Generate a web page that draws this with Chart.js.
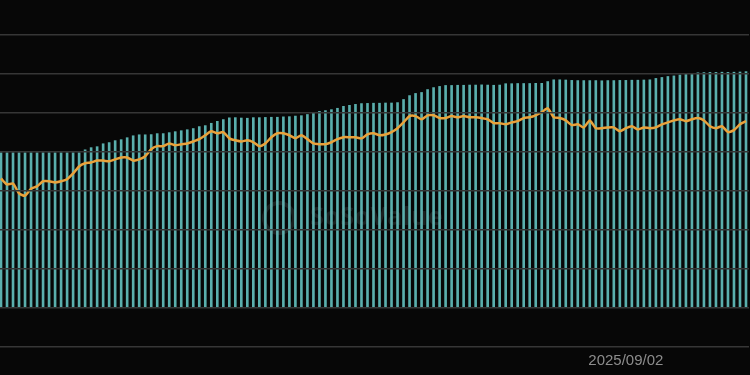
<!DOCTYPE html>
<html>
<head>
<meta charset="utf-8">
<script src="https://cdn.jsdelivr.net/npm/chart.js@4"></script>
<style>
  html, body { margin: 0; padding: 0; background: #070707; overflow: hidden; }
  #wrap { position: absolute; left: -2px; top: 0; width: 751px; height: 375px; }
  #mark { position: absolute; left: 262px; top: 198px; font: bold 25px "Open Sans", sans-serif;
          color: rgba(130, 170, 170, 0.16); letter-spacing: 0.5px; pointer-events: none; }
  #mark span { display: inline-block; width: 34px; height: 34px; border-radius: 50%;
               border: 4px solid rgba(130, 170, 170, 0.16); box-sizing: border-box;
               vertical-align: middle; margin-right: 14px; }
</style>
</head>
<body>
<div id="wrap"><canvas id="etf_chart"></canvas></div>
<div id="mark"><span></span>SoSoValue</div>
<script>
// total net assets, $B (bars)
const asset_values = [
  79.8, 79.8, 79.8, 79.8, 79.8, 79.8, 79.8, 79.8, 79.8, 79.8,
  79.8, 79.8, 79.8, 79.8, 81.3, 82.4, 82.9, 84.4, 85.0, 86.0,
  86.5, 87.5, 88.5, 89.0, 89.0, 89.1, 89.6, 89.6, 90.1, 90.6,
  91.1, 91.6, 92.2, 93.2, 93.7, 94.9, 95.9, 96.8, 97.7, 97.8,
  97.6, 97.5, 97.8, 97.8, 97.9, 98.0, 98.0, 98.2, 98.3, 98.6,
  98.8, 99.4, 100.4, 101.0, 101.4, 101.9, 102.6, 103.6, 104.1, 104.6,
  105.0, 105.1, 105.2, 105.2, 105.3, 105.3, 105.5, 107.1, 109.1, 110.2,
  110.7, 112.2, 113.2, 113.8, 114.3, 114.3, 114.4, 114.4, 114.5, 114.5,
  114.6, 114.5, 114.4, 114.5, 115.2, 115.2, 115.3, 115.3, 115.3, 115.4,
  115.4, 116.3, 117.2, 117.2, 117.1, 116.9, 116.8, 116.8, 116.8, 116.8,
  116.7, 116.8, 116.8, 116.9, 116.9, 117.0, 117.0, 117.1, 117.2, 117.9,
  118.4, 118.9, 119.2, 119.7, 120.1, 120.5, 120.8, 120.9, 121.0, 121.0,
  121.1, 121.0, 121.1, 121.2, 121.4
];

// price, $K (line)
const price_values = [
  103.2, 101.7, 101.9, 99.4, 98.8, 100.6, 101.2, 102.5, 102.5, 102.2,
  102.5, 103.0, 104.5, 106.3, 107.1, 107.3, 107.8, 107.8, 107.6, 108.1,
  108.6, 108.6, 107.8, 108.1, 108.9, 110.7, 111.5, 111.5, 112.2, 111.7,
  112.0, 112.2, 112.7, 113.3, 114.3, 115.3, 114.8, 115.1, 113.5, 113.0,
  112.7, 113.0, 112.5, 111.5, 112.2, 113.8, 114.8, 114.8, 114.3, 113.5,
  114.3, 113.3, 112.2, 112.0, 112.0, 112.5, 113.3, 113.8, 113.8, 113.8,
  113.5, 114.5, 114.8, 114.3, 114.5, 115.1, 116.1, 117.6, 119.2, 119.2,
  118.4, 119.4, 119.4, 118.7, 118.7, 119.2, 118.9, 119.2, 118.9, 118.9,
  118.7, 118.4, 117.4, 117.4, 117.1, 117.6, 117.9, 118.7, 118.9, 119.4,
  120.2, 121.2, 118.9, 118.7, 118.1, 116.9, 117.1, 116.3, 118.1, 116.1,
  116.1, 116.3, 116.3, 115.3, 116.1, 116.6, 115.8, 116.3, 116.1, 116.3,
  117.1, 117.6, 118.1, 118.4, 117.9, 118.4, 118.7, 118.1, 116.6, 116.1,
  116.6, 115.1, 115.6, 117.1, 117.9
];

const shown_dates = ['2025/09/02'];

// one label per day, ending so that 2025/09/02 falls at index 104
const date_labels = [];
const first_day = Date.UTC(2025, 4, 21);
for (let i = 0; i < asset_values.length; i++) {
  const d = new Date(first_day + i * 86400000);
  const mm = String(d.getUTCMonth() + 1).padStart(2, '0');
  const dd = String(d.getUTCDate()).padStart(2, '0');
  date_labels.push(d.getUTCFullYear() + '/' + mm + '/' + dd);
}

const etf_ctx = document.getElementById('etf_chart');

const etf_data = {
  labels: date_labels,
  datasets: [{
    type: 'line',
    data: price_values,
    yAxisID: 'y1',
    borderColor: '#e9a23b',
    borderWidth: 2.5,
    pointRadius: 0,
    tension: 0.2,
    order: 0
  }, {
    type: 'bar',
    data: asset_values,
    yAxisID: 'y',
    backgroundColor: 'rgba(98, 190, 188, 0.92)',
    barPercentage: 0.44,
    categoryPercentage: 1,
    order: 1
  }]
};

const etf_config = {
  type: 'bar',
  data: etf_data,
  options: {
    responsive: true,
    maintainAspectRatio: false,
    animation: false,
    layout: { padding: { top: 35, bottom: 8, left: 0, right: 0 } },
    plugins: {
      legend: { display: false },
      tooltip: { enabled: false }
    },
    scales: {
      x: {
        grid: { display: false },
        border: { display: false },
        ticks: {
          autoSkip: false,
          maxRotation: 0,
          padding: -3,
          color: '#8d8d8d',
          font: { family: 'Liberation Sans', size: 15 },
          callback: function (value, index) {
            const lab = this.getLabelForValue(value);
            return shown_dates.includes(lab) ? lab : '';
          }
        }
      },
      y: {
        min: -20,
        max: 140,
        ticks: { display: false, stepSize: 20 },
        border: { display: false },
        grid: { color: '#363636', lineWidth: 1.5, drawTicks: false, z: 1 }
      },
      y1: {
        display: false,
        min: 60,
        max: 140
      }
    }
  }
};
const etf_chart = new Chart(etf_ctx, etf_config);
</script>
</body>
</html>
